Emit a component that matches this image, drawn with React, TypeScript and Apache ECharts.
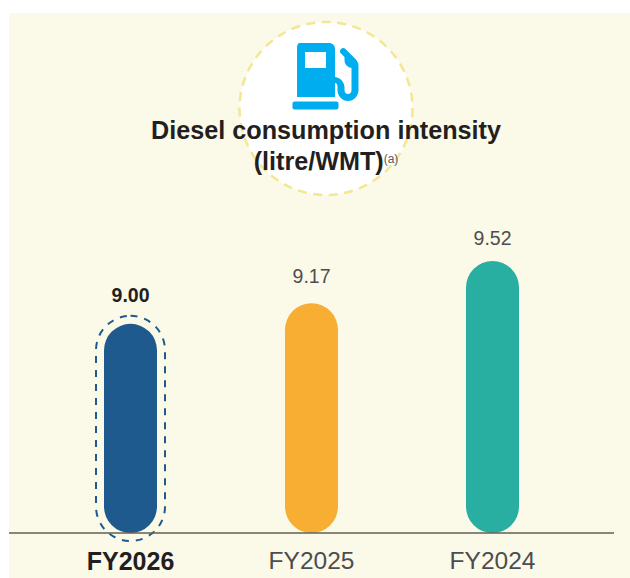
import React, { useEffect, useRef } from "react";
import * as echarts from "echarts";

const categories = ["FY2026", "FY2025", "FY2024"];
const intensity = [9.0, 9.17, 9.52];
const highlighted = ["FY2026"];
const barColors = ["#1F5A8F", "#F7AE33", "#28AFA1"];
const labelGaps = [19, 17, 13];

const PUMP_D =
  "M300 43H329C332.5 43 335 45.5 335 49V77C341 78 344 82 344.5 87V90C344.5 92.5 346 94 348 94C350 94 351.5 92.5 351.5 90V68C347 67 344.5 64 344.5 60V57L341 53.5C339.5 52 339.5 50.500 341 49C342.500 47.500 344 47.500 345.500 49L355 58.500C357 60.500 358.500 63 358.500 66V90C358.500 96 354 101 348 101C342 101 337.500 96 337.500 90V87C337.500 84 336.500 83 335 83V97H297V49C297 45.500 297.500 43 300 43ZM305 52V68H326V52ZM294.500 101.500H336.500C337.600 101.500 338.500 102.400 338.500 103.500V107.500C338.500 108.600 337.600 109.500 336.500 109.500H294.500C293.400 109.500 292.500 108.600 292.500 107.500V103.500C292.500 102.400 293.400 101.500 294.500 101.500Z";

echarts.graphic.registerShape("fuelPump", echarts.graphic.extendPath(PUMP_D, {}));

const FONT = '"Liberation Sans", Arial, sans-serif';

export default function App() {
  const ref = useRef<HTMLDivElement>(null);
  useEffect(() => {
    const chart = echarts.init(ref.current!, null, { renderer: "svg" });
    chart.setOption({
      animation: false,
      textStyle: { fontFamily: FONT },
      title: {
        text: "Diesel consumption intensity\n{unit|(litre/WMT)}{sup|(a)}",
        left: 321,
        top: 109,
        textAlign: "center",
        z: 10,
        textStyle: {
          fontFamily: FONT,
          fontSize: 25.2,
          fontWeight: "bold",
          color: "#231F20",
          lineHeight: 31,
          rich: {
            unit: { fontFamily: FONT, fontSize: 25.2, fontWeight: "bold", color: "#231F20", lineHeight: 31 },
            sup: { fontFamily: FONT, fontSize: 12, fontWeight: "normal", color: "#58595B", lineHeight: 31, verticalAlign: "middle", padding: [0, 0, 3, 0] },
          },
        },
      },
      graphic: [
        { type: "rect", silent: true, z: -10, shape: { x: 9, y: 13, width: 621, height: 565 }, style: { fill: "#FBF9E8" } },
        {
          type: "circle",
          silent: true,
          z: -5,
          shape: { cx: 326, cy: 108.5, r: 86.5 },
          style: { fill: "#FFFFFF", stroke: "#F3E794", lineWidth: 2.5, lineDash: [9, 6.5] },
        },
        { type: "fuelPump", silent: true, z: -4, style: { fill: "#00AEEF" } },
        { type: "line", silent: true, z: 5, shape: { x1: 9, y1: 533, x2: 614, y2: 533 }, style: { stroke: "#625F54", lineWidth: 1.5 } },
      ],
      grid: { left: 40, top: 261, width: 543, height: 272 },
      xAxis: {
        type: "category",
        data: categories.map((c) => ({
          value: c,
          textStyle: {
            fontWeight: highlighted.includes(c) ? "bold" : "normal",
            color: highlighted.includes(c) ? "#231F20" : "#4D4D4F",
            fontSize: highlighted.includes(c) ? 25 : 24.5,
          },
        })),
        axisLine: { show: false },
        axisTick: { show: false },
        axisLabel: { fontFamily: FONT, fontSize: 24.5, margin: 15 },
      },
      yAxis: { type: "value", min: 7.27, max: 9.52, show: false },
      series: [
        {
          type: "bar",
          barWidth: 53,
          z: 3,
          data: intensity.map((v, i) => ({
            value: v,
            itemStyle: { color: barColors[i], borderRadius: 26.5 },
            label: {
              show: true,
              position: "top",
              distance: labelGaps[i],
              formatter: (p: any) => p.value.toFixed(2),
              fontFamily: FONT,
              fontSize: 19.5,
              fontWeight: highlighted.includes(categories[i]) ? "bold" : "normal",
              color: highlighted.includes(categories[i]) ? "#231F20" : "#4D4D4F",
            },
          })),
        },
        {
          type: "custom",
          z: 4,
          silent: true,
          data: intensity.map((v, i) => (highlighted.includes(categories[i]) ? [i, v] : [i, null])),
          encode: { x: 0, y: 1 },
          renderItem: (_: any, api: any) => {
            const v = api.value(1);
            if (v == null || isNaN(v)) return null;
            const top = api.coord([api.value(0), v]);
            const base = api.coord([api.value(0), 7.27]);
            return {
              type: "rect",
              shape: { x: top[0] - 34.5, y: top[1] - 8, width: 69, height: base[1] - top[1] + 16, r: 34.5 },
              style: { fill: "none", stroke: "#1F5A8F", lineWidth: 2, lineDash: [7, 7] },
            };
          },
        },
      ],
    });
    return () => chart.dispose();
  }, []);
  return <div ref={ref} style={{ position: "fixed", left: 0, top: 0, width: 630, height: 578, background: "#FFFFFF" }} />;
}
